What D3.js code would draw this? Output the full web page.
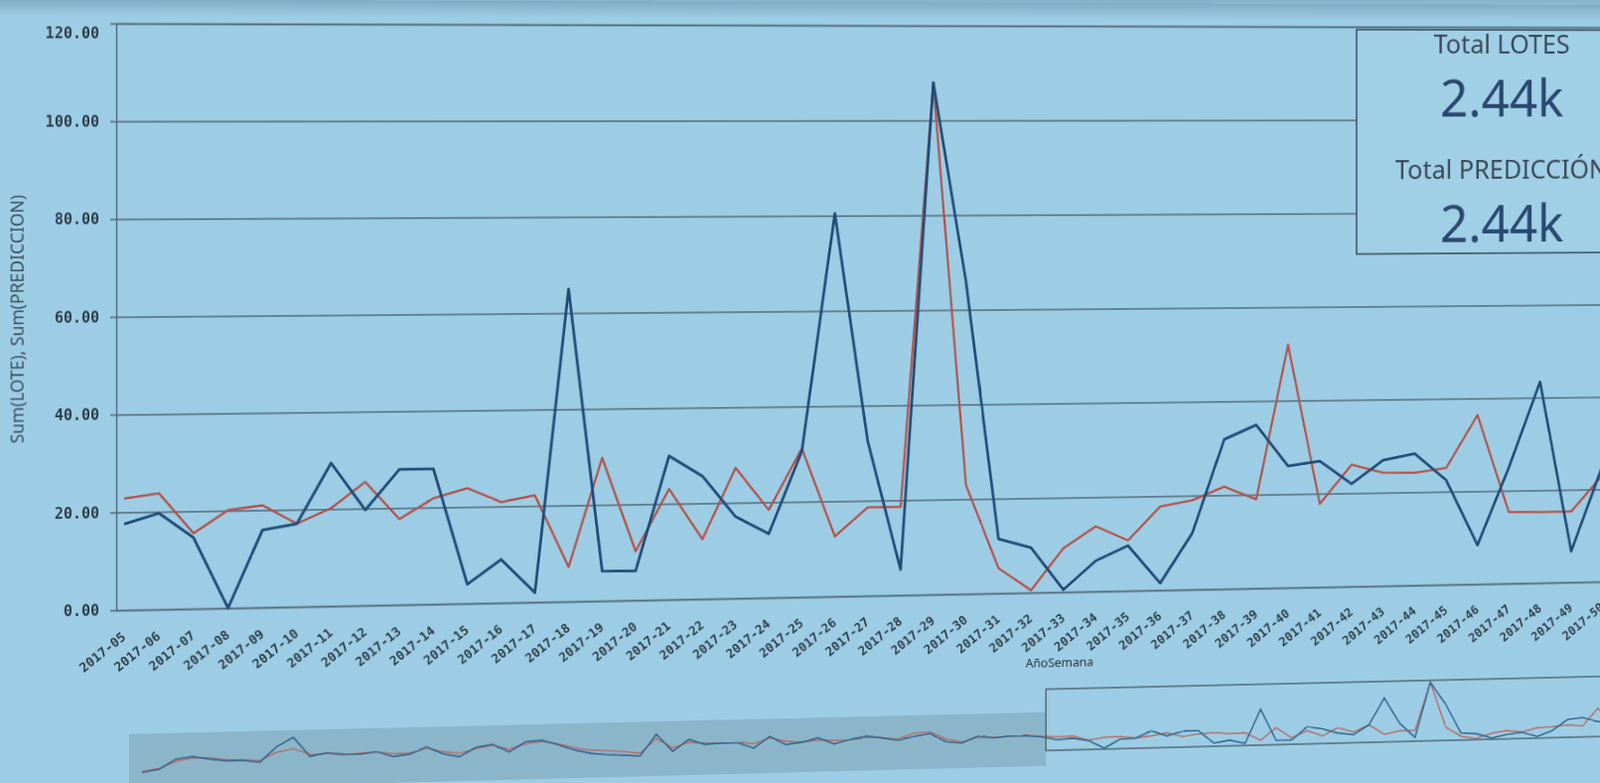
<!doctype html>
<html>
<head>
<meta charset="utf-8">
<script src="https://d3js.org/d3.v7.min.js"></script>
<style>
  html, body { margin: 0; padding: 0; width: 1611px; height: 788px; overflow: hidden; }
  body { background: linear-gradient(#86b3ca 0px, #9dcde4 16px); }
  #photo { position: absolute; left: 0; top: 0; transform-origin: 0 0; }
  text { font-family: "Noto Sans", Roboto, sans-serif; }
  .mono text, text.mono { font-family: "DejaVu Sans Mono", monospace; }
</style>
</head>
<body>
<div id="photo"></div>
<script>
// weekly values shown in the main chart (AñoSemana 2017-05 .. 2017-50)
const weeks = ["2017-05","2017-06","2017-07","2017-08","2017-09","2017-10","2017-11","2017-12","2017-13","2017-14",
  "2017-15","2017-16","2017-17","2017-18","2017-19","2017-20","2017-21","2017-22","2017-23","2017-24",
  "2017-25","2017-26","2017-27","2017-28","2017-29","2017-30","2017-31","2017-32","2017-33","2017-34",
  "2017-35","2017-36","2017-37","2017-38","2017-39","2017-40","2017-41","2017-42","2017-43","2017-44",
  "2017-45","2017-46","2017-47","2017-48","2017-49","2017-50"];
const lote = [17.6, 19.7, 14.6, 0, 15.9, 17.1, 29.5, 19.7, 28, 28,
  4, 9, 2, 65, 6.2, 6.1, 30, 25.7, 17.1, 13.4,
  30.6, 80.5, 32.5, 5.4, 108, 66, 11.5, 9.5, 0.5, 6.5,
  9.6, 1.5, 12, 31.9, 34.9, 26, 27, 22, 27, 28.3,
  22.5, 8.4, 25, 43.4, 6.7, 25];
const prediccion = [22.8, 23.8, 15.5, 20.1, 21, 17.1, 20.2, 25.5, 17.7, 21.9,
  23.9, 20.9, 22.2, 7.2, 29.8, 10.2, 23.1, 12.5, 27.3, 18.4,
  31.2, 12.6, 18.6, 18.6, 108, 23, 5.3, 0.5, 9.3, 13.8,
  10.7, 17.8, 19, 21.8, 19, 52, 17.8, 26.1, 24.3, 24.2,
  25.1, 36.4, 15.4, 15.3, 15.3, 23];

// earlier weeks, only visible in the range navigator at the bottom
const histWeeks = ["2016-01","2016-02","2016-03","2016-04","2016-05","2016-06","2016-07","2016-08","2016-09","2016-10",
  "2016-11","2016-12","2016-13","2016-14","2016-15","2016-16","2016-17","2016-18","2016-19","2016-20",
  "2016-21","2016-22","2016-23","2016-24","2016-25","2016-26","2016-27","2016-28","2016-29","2016-30",
  "2016-31","2016-32","2016-33","2016-34","2016-35","2016-36","2016-37","2016-38","2016-39","2016-40",
  "2016-41","2016-42","2016-43","2016-44","2016-45","2016-46","2016-47","2016-48","2016-49","2016-50",
  "2016-51","2016-52","2017-01","2017-02","2017-03","2017-04"];
const histLote = [0, 5, 22, 26, 21, 17, 17, 13, 40, 56,
  21, 27, 24, 23, 27, 17, 21, 33, 20, 14,
  30, 35, 20, 38, 40, 31, 21, 14, 11, 9,
  7, 46, 14, 35, 25, 27, 27, 16, 37, 21,
  25, 32, 20, 28, 33, 29, 24, 30, 35, 19,
  16, 28, 24, 27, 26, 24];
const histPrediccion = [2, 6, 18, 24, 23, 19, 18, 16, 30, 36,
  24, 26, 22, 25, 26, 22, 23, 30, 24, 20,
  28, 33, 25, 34, 38, 33, 25, 20, 18, 16,
  12, 38, 20, 30, 27, 26, 28, 24, 34, 27,
  25, 28, 26, 27, 30, 29, 27, 36, 38, 24,
  18, 26, 25, 26, 27, 25];

const yTicks = [0, 20, 40, 60, 80, 100, 120];
const kpiTitles = ["Total LOTES", "Total PREDICCIÓN"];
const kpiValues = ["2.44k", "2.44k"];

const W = 1800, H = 840;
const bg = "#9dcde4", gridColor = "#50697a", textColor = "#2f3e49";
const loteColor = "#1f4b78", predColor = "#b3524a";

const svg = d3.select("#photo").append("svg")
  .attr("width", W)
  .attr("height", H);

const defs = svg.append("defs");
const band = defs.append("linearGradient").attr("id", "band").attr("x1", 0).attr("x2", 0).attr("y1", 0).attr("y2", 1);
band.append("stop").attr("offset", 0).attr("stop-color", "#80acc4");
band.append("stop").attr("offset", 1).attr("stop-color", bg);

svg.append("rect").attr("width", W).attr("height", H).attr("fill", bg);
svg.append("rect").attr("width", W).attr("height", 17).attr("fill", "url(#band)");

// main chart scales
const x = d3.scalePoint().domain(weeks).range([125, 125 + (weeks.length - 1) * 35.04]);
const y = d3.scaleLinear().domain([0, 120]).range([615, 24]);
const plotLeft = 117;

// grid + y labels
const yAxis = svg.append("g")
  .attr("class", "mono")
  .attr("transform", "translate(" + plotLeft + ",0)")
  .call(d3.axisLeft(y).tickValues(yTicks).tickFormat(d3.format(".2f"))
    .tickSize(-(W - plotLeft)).tickPadding(17));
yAxis.select(".domain").attr("stroke", gridColor).attr("stroke-width", 1.4);
yAxis.selectAll(".tick line").attr("x1", -6).attr("stroke", gridColor).attr("stroke-width", 1.3);
yAxis.selectAll(".tick text")
  .attr("fill", textColor)
  .attr("font-size", 15)
  .attr("font-weight", "bold")
  .attr("dy", d => d === 120 ? "1em" : "0.32em");

// x labels
const xAxis = svg.append("g")
  .attr("class", "mono")
  .attr("transform", "translate(0," + y(0) + ")")
  .call(d3.axisBottom(x).tickSize(0).tickPadding(0));
xAxis.select(".domain").remove();
xAxis.selectAll(".tick text")
  .attr("fill", textColor)
  .attr("font-size", 13)
  .attr("font-weight", "bold")
  .attr("text-anchor", "end")
  .attr("y", 0)
  .attr("dy", "0.75em")
  .attr("transform", "translate(-4,21) rotate(-38)");

// y title
svg.append("text")
  .attr("transform", "translate(24,321) rotate(-90)")
  .attr("text-anchor", "middle")
  .attr("font-size", 17.5)
  .attr("fill", "#3d505c")
  .text("Sum(LOTE), Sum(PREDICCION)");

// series lines
const line = d3.line().x(d => x(d[0])).y(d => y(d[1]));
svg.append("path")
  .datum(d3.zip(weeks, prediccion))
  .attr("d", line)
  .attr("fill", "none")
  .attr("stroke", predColor)
  .attr("stroke-width", 2.3)
  .attr("stroke-linejoin", "round");
svg.append("path")
  .datum(d3.zip(weeks, lote))
  .attr("d", line)
  .attr("fill", "none")
  .attr("stroke", loteColor)
  .attr("stroke-width", 2.8)
  .attr("stroke-linejoin", "round");

// KPI box (cut by the right edge of the photo)
const kpi = svg.append("g");
kpi.append("rect")
  .attr("x", 1427).attr("y", 27)
  .attr("width", 430).attr("height", 237)
  .attr("fill", "#a0d0e6")
  .attr("stroke", "#3c4c58")
  .attr("stroke-width", 1.6);
const kpiTop = [52, 185];
kpiTitles.forEach(function (t, i) {
  kpi.append("text")
    .attr("x", 1589).attr("y", kpiTop[i])
    .attr("text-anchor", "middle")
    .attr("font-family", "Roboto, sans-serif")
    .attr("font-size", 28)
    .attr("fill", "#3a4856")
    .text(t);
  kpi.append("text")
    .attr("x", 1589).attr("y", kpiTop[i] + 67)
    .attr("text-anchor", "middle")
    .attr("font-family", "Roboto, sans-serif")
    .attr("font-size", 55)
    .attr("fill", "#2b4870")
    .text(kpiValues[i]);
});

// range navigator
const allWeeks = histWeeks.concat(weeks);
const nx = d3.scalePoint().domain(allWeeks).range([143, 143 + (allWeeks.length - 1) * 17.075]);
const ny = d3.scaleLinear().domain([0, 108]).range([779, 718]);
const selX = nx(weeks[0]) - 12;

svg.append("rect")
  .attr("x", 130).attr("y", 740)
  .attr("width", selX - 130).attr("height", 56)
  .attr("fill", "#8bb6ca");

const nline = d3.line().x(d => nx(d[0])).y(d => ny(d[1]));
svg.append("path")
  .datum(d3.zip(allWeeks, histPrediccion.concat(prediccion)))
  .attr("d", nline)
  .attr("fill", "none")
  .attr("stroke", "#b56f68")
  .attr("stroke-width", 1.5);
svg.append("path")
  .datum(d3.zip(allWeeks, histLote.concat(lote)))
  .attr("d", nline)
  .attr("fill", "none")
  .attr("stroke", "#366890")
  .attr("stroke-width", 1.6);

svg.append("rect")
  .attr("x", selX).attr("y", 716)
  .attr("width", W - selX + 20).attr("height", 64)
  .attr("fill", "none")
  .attr("stroke", "#4d6676")
  .attr("stroke-width", 1.5);

svg.append("text")
  .attr("x", selX - 22).attr("y", 693)
  .attr("font-size", 13)
  .attr("fill", "#26343e")
  .text("AñoSemana");

// the reference is a photo of a screen taken at an angle:
// map the flat chart onto the photographed trapezoid with a homography
function solveHomography(src, dst) {
  const A = [], b = [];
  for (let i = 0; i < 4; i++) {
    const [u, v] = src[i], [X, Y] = dst[i];
    A.push([u, v, 1, 0, 0, 0, -X * u, -X * v]); b.push(X);
    A.push([0, 0, 0, u, v, 1, -Y * u, -Y * v]); b.push(Y);
  }
  for (let c = 0; c < 8; c++) {
    let p = c;
    for (let r = c + 1; r < 8; r++) if (Math.abs(A[r][c]) > Math.abs(A[p][c])) p = r;
    [A[c], A[p]] = [A[p], A[c]];
    [b[c], b[p]] = [b[p], b[c]];
    for (let r = 0; r < 8; r++) {
      if (r === c) continue;
      const f = A[r][c] / A[c][c];
      for (let k = c; k < 8; k++) A[r][k] -= f * A[c][k];
      b[r] -= f * b[c];
    }
  }
  return b.map((v, i) => v / A[i][i]).concat([1]);
}

const xl = x(weeks[0]), xr = x(weeks[44]);
const h = solveHomography(
  [[xl, 123.5], [xl, 615], [xr, 123.5], [xr, 615]],
  [[xl, 123], [xl, 614], [1582, 121.5], [1582, 586]]
);
d3.select("#photo").style("transform",
  "matrix3d(" + [h[0], h[3], 0, h[6], h[1], h[4], 0, h[7], 0, 0, 1, 0, h[2], h[5], 0, h[8]].join(",") + ")");
</script>
</body>
</html>
